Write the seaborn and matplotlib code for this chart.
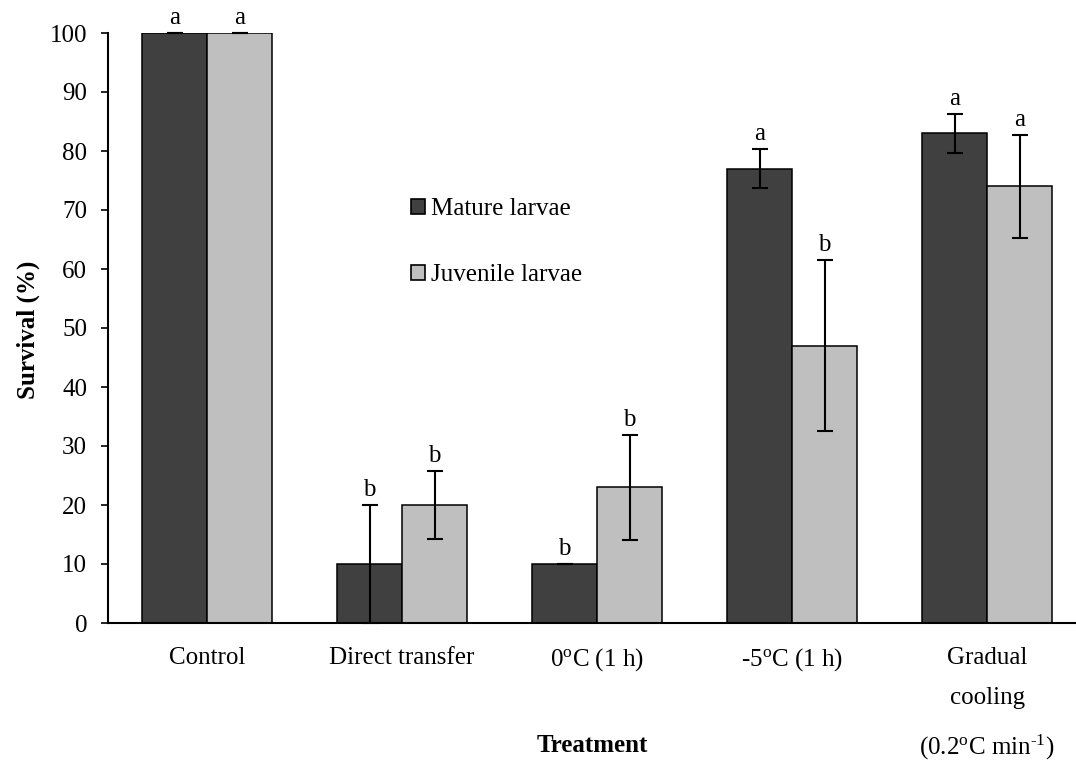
import numpy as np
import pandas as pd
import matplotlib
matplotlib.use("Agg")
import matplotlib.pyplot as plt
import seaborn as sns

treatments = ["Control", "Direct transfer", "0$^{\\rm o}$C (1 h)", "-5$^{\\rm o}$C (1 h)",
              "Gradual\ncooling\n(0.2$^{\\rm o}$C min$^{\\text{-1}}$)"]
groups = ["Mature larvae", "Juvenile larvae"]
mature = [100, 10, 10, 77, 83]
juvenile = [100, 20, 23, 47, 74]
mature_err = [0, 10, 0, 3.3, 3.3]
juvenile_err = [0, 5.8, 8.9, 14.5, 8.7]
mature_letters = ["a", "b", "b", "a", "a"]
juvenile_letters = ["a", "b", "b", "b", "a"]
colors = ["#404040", "#BFBFBF"]

sns.set_theme(style="white")
plt.rcParams["font.family"] = ["Liberation Serif", "DejaVu Serif"]
plt.rcParams["mathtext.fontset"] = "custom"
plt.rcParams["mathtext.rm"] = "Liberation Serif"
plt.rcParams["mathtext.it"] = "Liberation Serif:italic"
plt.rcParams["mathtext.bf"] = "Liberation Serif:bold"
for k in ["text.color", "axes.labelcolor", "xtick.color", "ytick.color"]:
    plt.rcParams[k] = "black"

FS = 18

df = pd.DataFrame({
    "Treatment": treatments * 2,
    "Group": [groups[0]] * 5 + [groups[1]] * 5,
    "Survival": mature + juvenile,
})

fig = plt.figure(figsize=(10.76, 7.63), dpi=100)
ax = fig.add_axes([108 / 1076, 1 - 623 / 763, 1 - 108 / 1076, (623 - 33) / 763])

sns.barplot(data=df, x="Treatment", y="Survival", hue="Group", palette=colors,
            errorbar=None, width=0.667, edgecolor="black", linewidth=1.1,
            saturation=1, ax=ax)

# error bars and letters
errs = [mature_err, juvenile_err]
vals = [mature, juvenile]
letters = [mature_letters, juvenile_letters]
bar_containers = list(ax.containers)
for gi, cont in enumerate(bar_containers):
    for i, patch in enumerate(cont.patches):
        xc = patch.get_x() + patch.get_width() / 2
        v = vals[gi][i]
        e = errs[gi][i]
        ax.errorbar(xc, v, yerr=e, fmt="none", ecolor="black", elinewidth=1.5,
                    capsize=5.5, capthick=1.5, clip_on=False, zorder=5)
        ax.annotate(letters[gi][i], (xc, v + e), xytext=(0, 3), textcoords="offset points",
                    ha="center", va="bottom", fontsize=FS, annotation_clip=False)

ax.set_xlim(-0.508, 4.456)
ax.set_ylim(0, 100)
ax.set_yticks(np.arange(0, 101, 10))
ax.tick_params(axis="y", direction="out", length=5, width=1.2, labelsize=FS, pad=10, left=True)
ax.tick_params(axis="x", length=0, labelsize=FS, pad=17)
for lbl in ax.get_xticklabels():
    lbl.set_linespacing(2.1)
    lbl.set_va("top")

for s in ["top", "right"]:
    ax.spines[s].set_visible(False)
for s in ["left", "bottom"]:
    ax.spines[s].set_color("black")
    ax.spines[s].set_linewidth(1.5)

ax.set_ylabel("")
ax.set_xlabel("")
fig.text(28 / 1076, 1 - 330 / 763, "Survival (%)", ha="center", va="center", rotation=90,
         fontsize=FS, fontweight="bold")
fig.text(592 / 1076, 1 - 745 / 763, "Treatment", ha="center", va="center",
         fontsize=FS, fontweight="bold")

leg = ax.legend(loc="upper left", bbox_to_anchor=(0.313, 0.720), frameon=False,
                fontsize=FS, handlelength=0.55, handleheight=0.55, handletextpad=0.25,
                labelspacing=1.75, borderpad=0, borderaxespad=0)
for h in leg.legend_handles:
    h.set_edgecolor("black")
    h.set_linewidth(1.2)

fig.savefig("out.png", dpi=100)
